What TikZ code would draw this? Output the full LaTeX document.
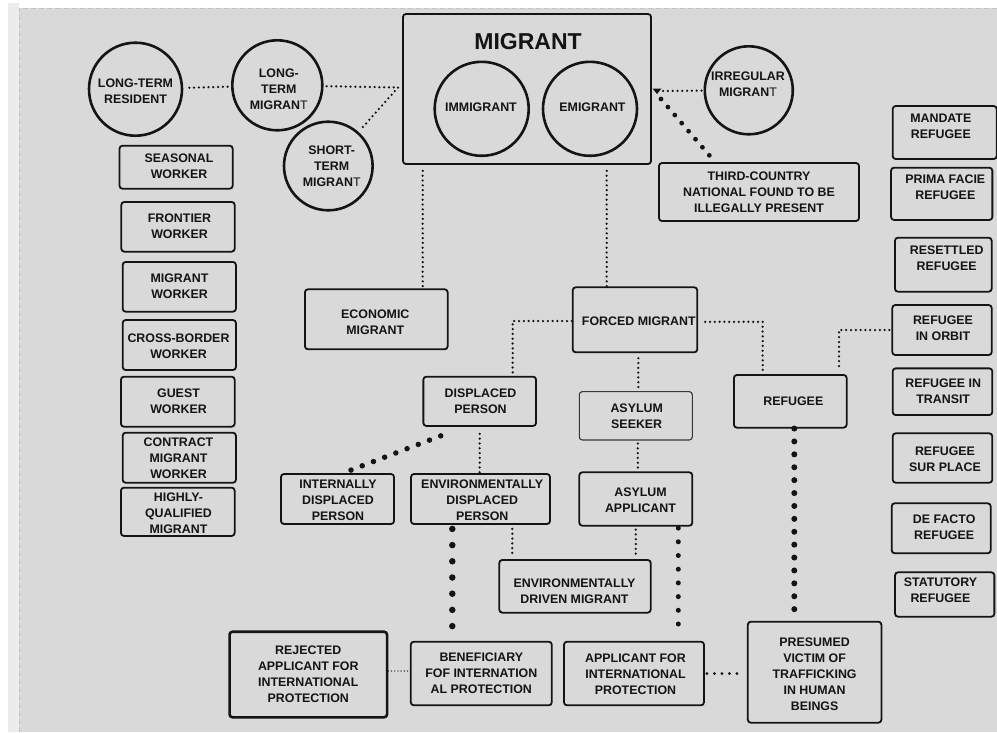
\documentclass[tikz,border=0pt]{standalone}
\usepackage{fontspec}
\setmainfont{Liberation Sans}
\usetikzlibrary{calc}

\definecolor{canvas}{RGB}{217,217,217}
\definecolor{strip}{RGB}{236,236,236}
\definecolor{rim}{RGB}{196,196,196}
\definecolor{ink}{RGB}{20,20,20}

% box with its caption: [style]{name}{centre}{width}{height}{caption position}{caption}
\newcommand\labelbox[7][]{%
  \node[box,minimum width=#4pt,minimum height=#5pt,#1] (#2) at (#3) {};
  \node[txt] (#2-t) at (#6) {#7};}
% ring with its caption: [style]{name}{centre}{diameter}{caption position}{caption}
\newcommand\labelring[6][]{%
  \node[ring,minimum size=#4pt,#1] (#2) at (#3) {};
  \node[txt] (#2-t) at (#5) {#6};}
\newcommand\thinT{{\mdseries T}}

\begin{document}
\begin{tikzpicture}[x=1pt,y=-1pt,
  box/.style={draw=ink,line width=1.8pt,rounded corners=3pt,inner sep=0pt},
  ring/.style={draw=ink,circle,line width=2.6pt,inner sep=0pt},
  txt/.style={font=\fontsize{12.4}{16}\selectfont\bfseries,align=center,inner sep=0pt,text=ink},
  fine/.style={draw=ink,line width=2.5pt,line cap=round,dash pattern=on 0pt off 4.8pt},
  dots/.style 2 args={draw=ink,line cap=round,line width=#1,dash pattern=on 0pt off #2},
]
\useasboundingbox (0,0) rectangle (997,732);

% page and drawing area
\fill[white] (0,0) rectangle (997,732);
\fill[strip] (8,3) rectangle (19,732);
\fill[canvas] (19,8) rectangle (997,732);
\draw[rim,line width=1pt,dash pattern=on 5pt off 3pt] (19,732) -- (19,8.5) -- (997,8.5);

% ---- migrant block ----
\node[box,minimum width=248pt,minimum height=150pt] (migrant) at (527,89) {};
\node[font=\fontsize{23}{26}\selectfont\bfseries,text=ink,inner sep=0pt] (mtitle) at (528,41.5) {MIGRANT};
\labelring{imm}{481.7,108.8}{94}{481,107.7}{IMMIGRANT}
\labelring{emi}{590,108.8}{94}{592.5,107.7}{EMIGRANT}

% ---- rings ----
\labelring{ltr}{135.5,89.2}{93}{135.5,91.3}{LONG-TERM\\RESIDENT}
\labelring{ltm}{277.3,85.3}{90}{278.8,89.3}{LONG-\\TERM\\MIGRAN\thinT}
\labelring{stm}{328.3,166}{88.6}{331.7,166.5}{SHORT-\\TERM\\MIGRAN\thinT}
\labelring{irr}{748.8,90.3}{88}{748,84.7}{IRREGULAR\\MIGRAN\thinT}

\labelbox{third}{759,192}{200}{58}{759,192}{THIRD-COUNTRY\\NATIONAL FOUND TO BE\\ILLEGALLY PRESENT}

% ---- workers column ----
\labelbox{seasonal}{176.1,167.2}{113.2}{43}{179,166.7}{SEASONAL\\WORKER}
\labelbox{frontier}{178,226.8}{113.4}{49.7}{179.5,226.7}{FRONTIER\\WORKER}
\labelbox{migworker}{179.3,286.8}{113.3}{49.7}{179.5,286.2}{MIGRANT\\WORKER}
\labelbox{crossb}{179.3,345}{113.3}{50}{178.5,346.2}{CROSS-BORDER\\WORKER}
\labelbox{guest}{177.8,401.7}{113.7}{50}{178.5,401}{GUEST\\WORKER}
\labelbox{contract}{179.3,457.7}{113.3}{50}{178.5,458.6}{CONTRACT\\MIGRANT\\WORKER}
\labelbox{highly}{177.8,511.8}{113.7}{48.3}{178.5,513}{HIGHLY-\\QUALIFIED\\MIGRANT}

% ---- refugee column ----
\labelbox{mandate}{944.7,132.5}{104}{53}{940.8,126.2}{MANDATE\\REFUGEE}
\labelbox{prima}{941.7,193.8}{101.3}{52.3}{945.3,187.3}{PRIMA FACIE\\REFUGEE}
\labelbox{resettled}{943.3,264.7}{96.7}{54}{946.7,258.2}{RESETTLED\\REFUGEE}
\labelbox{orbit}{942,330}{99.4}{50}{943,327.8}{REFUGEE\\IN ORBIT}
\labelbox{transit}{942.5,391.7}{99.6}{46.7}{943.2,391.3}{REFUGEE IN\\TRANSIT}
\labelbox{surplace}{942.5,458}{99.6}{49.4}{945,459.5}{REFUGEE\\SUR PLACE}
\labelbox{defacto}{941.2,528.3}{99}{50}{944.2,527.3}{DE FACTO\\REFUGEE}
\labelbox{statutory}{944.7,594.5}{99.3}{44.4}{940.5,590.7}{STATUTORY\\REFUGEE}

% ---- centre ----
\labelbox{econ}{376.3,319.3}{142.7}{60}{375.3,322.5}{ECONOMIC\\MIGRANT}
\labelbox{forced}{635,319.8}{124.6}{65}{638.8,321.7}{FORCED MIGRANT}
\labelbox{displaced}{479.7,401.3}{112.7}{49.3}{480.5,401.3}{DISPLACED\\PERSON}
\labelbox[line width=1.1pt,draw=ink!85]{seeker}{635.8,415.8}{113}{48.3}{636.7,416.3}{ASYLUM\\SEEKER}
\labelbox{refugee}{790.3,401.3}{112.7}{52.7}{793.3,401}{REFUGEE}
\labelbox{internally}{337.5,499}{113}{50}{338,499.8}{INTERNALLY\\DISPLACED\\PERSON}
\labelbox{envdisp}{480.5,499}{139}{50}{482.2,499.8}{ENVIRONMENTALLY\\DISPLACED\\PERSON}
\labelbox{asylumapp}{635.8,499}{113}{53.4}{640.5,500.3}{ASYLUM\\APPLICANT}
\labelbox{envdriven}{575,586.3}{151.4}{52.7}{574.5,591.2}{ENVIRONMENTALLY\\DRIVEN MIGRANT}

% ---- bottom row ----
\labelbox[line width=2.6pt]{rejected}{308.3,674.5}{157.5}{85.6}{308.3,674}{REJECTED\\APPLICANT FOR\\INTERNATIONAL\\PROTECTION}
\labelbox{benef}{481.3,673.5}{141}{63.6}{481.3,672.8}{BENEFICIARY\\FOF INTERNATION\\AL PROTECTION}
\labelbox{applicant}{634,673.5}{140}{63.6}{635.5,674.7}{APPLICANT FOR\\INTERNATIONAL\\PROTECTION}
\labelbox{presumed}{814.6,672.2}{133.6}{101}{814.6,673.9}{PRESUMED\\VICTIM OF\\TRAFFICKING\\IN HUMAN\\BEINGS}

% ---- connectors: top ----
\draw[fine,shorten <=6pt,shorten >=2pt] (ltr) -- (ltm);
\coordinate (j1) at (398,87.5);
\draw[fine,shorten <=3pt] (ltm) -- (j1);
\draw[fine,shorten >=3pt] (j1) -- (stm);

\coordinate (tri) at (657,91);
\draw[fine,shorten <=2pt,shorten >=6pt] (irr) -- (tri);
\fill[ink] ([shift={(-4.5,-2.5)}]tri) -- ([shift={(4.5,-2.5)}]tri) -- ([shift={(0,3)}]tri) -- cycle;
\coordinate (t1) at ([shift={(4,8)}]tri);
\coordinate (t2) at ([xshift=-49pt,yshift=6pt]third.north);
\draw[dots={4.8pt}{10.6pt}] (t1) -- (t2);

\coordinate (m1) at ([xshift=-104.3pt,yshift=-6pt]migrant.south);
\draw[fine] (m1) -- (m1 |- econ.north);
\coordinate (m2) at ([xshift=79.7pt,yshift=-6pt]migrant.south);
\draw[fine] (m2) -- (m2 |- forced.north);

% ---- connectors: forced migrant branches ----
\coordinate (d1) at ([xshift=33pt,yshift=3pt]displaced.north);
\draw[fine] ([yshift=-1.2pt]forced.west) -| (d1);
\coordinate (r1) at ([xshift=-27.6pt]refugee.north);
\draw[fine] ([xshift=7pt,yshift=-2pt]forced.east) -| (r1);
\coordinate (f1) at ([xshift=3.3pt,yshift=-5pt]forced.south);
\draw[fine,shorten >=2pt] (f1) -- (f1 |- seeker.north);
\coordinate (r2) at ([xshift=48.7pt,yshift=5pt]refugee.north);
\draw[fine] ([xshift=-2pt]orbit.west) -| (r2);

% ---- connectors: lower levels ----
\coordinate (dp1) at ([yshift=-7pt]displaced.south);
\draw[fine] (dp1) -- (dp1 |- envdisp.north);
\coordinate (dp2) at ([xshift=-39pt,yshift=-9pt]displaced.south);
\coordinate (ip1) at ([xshift=10.8pt,yshift=2pt]internally.north);
\draw[dots={5.5pt}{12pt}] (dp2) -- (ip1);
\coordinate (ed1) at ([xshift=31.8pt,yshift=-4pt]envdisp.south);
\draw[fine,shorten >=3pt] (ed1) -- (ed1 |- envdriven.north);
\coordinate (aa1) at ([yshift=-3pt]asylumapp.south);
\draw[fine,shorten >=3pt] (aa1) -- (aa1 |- envdriven.north);
\coordinate (sk1) at ([xshift=2pt,yshift=-3pt]seeker.south);
\draw[fine,shorten >=1pt] (sk1) -- (sk1 |- asylumapp.north);

\coordinate (ed2) at ([xshift=-28.2pt,yshift=-4pt]envdisp.south);
\draw[dots={6.5pt}{16.2pt}] (ed2) -- (ed2 |- benef.north);
\coordinate (aa2) at ([xshift=42.5pt,yshift=-1.5pt]asylumapp.south);
\draw[dots={5pt}{13.7pt},shorten >=5pt] (aa2) -- (aa2 |- applicant.north);
\coordinate (rf1) at ([xshift=4pt]refugee.south);
\draw[dots={6pt}{12.9pt}] (rf1) -- (rf1 |- presumed.north);

\coordinate (rj1) at ([yshift=3.5pt]rejected.east);
\draw[dots={1.4pt}{3.2pt}] (rj1) -- (rj1 -| benef.west);
\draw[dots={3.2pt}{7.5pt},shorten >=3pt] ([xshift=2pt]applicant.east) -- (applicant.east -| presumed.west);
\end{tikzpicture}
\end{document}
